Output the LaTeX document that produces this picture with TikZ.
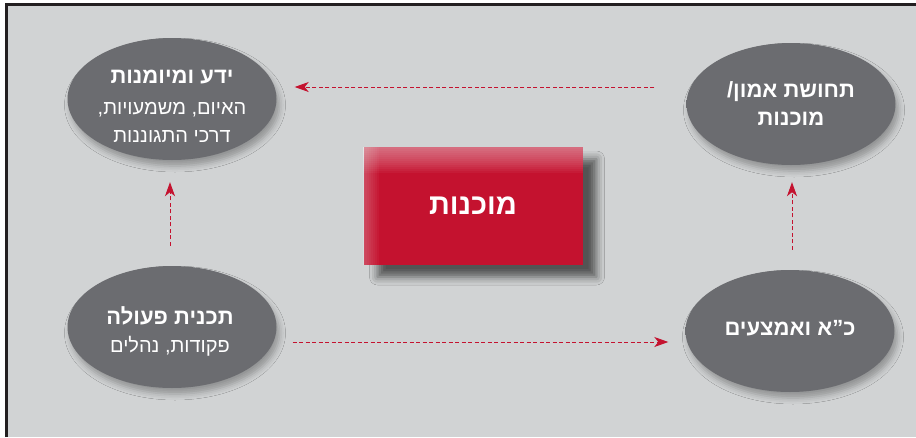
\documentclass[tikz,border=0pt]{standalone}
\usepackage{fontspec}
\setmainfont{Liberation Sans}
\newfontfamily\hebfont[Script=Hebrew]{Liberation Sans}
\TeXXeTstate=1
\usetikzlibrary{arrows.meta,positioning,calc,shapes.geometric,shadows.blur}
\definecolor{backdrop}{HTML}{D1D3D4}
\definecolor{pebble}{HTML}{6B6C70}
\definecolor{pebblerim}{HTML}{B2B3B6}
\definecolor{alarm}{HTML}{C4122F}
\definecolor{framing}{HTML}{231F20}
% the picture has y pointing down, so the shading centre is given upside down
\pgfdeclareradialshading{pebbleshade}{\pgfpoint{0bp}{8bp}}{color(0bp)=(pebble); color(40bp)=(pebble); color(54bp)=(pebblerim)}

\begin{document}
\begin{tikzpicture}[x=1pt,y=-1pt,
  pebble/.style={ellipse, minimum width=209pt, minimum height=122pt, inner sep=0pt,
    shading=pebbleshade,
    blur shadow={shadow xshift=3pt, shadow yshift=-6pt, shadow opacity=30, shadow blur radius=6pt}},
  caption/.style={text=white, align=center, inner sep=0pt, font=\hebfont\fontsize{20}{28}\selectfont},
  heading/.style={font=\hebfont\bfseries\fontsize{22}{28}\selectfont},
  alarmbox/.style={rectangle, minimum width=219pt, minimum height=118pt, inner sep=0pt,
    fill=alarm, text=white, font=\hebfont\bfseries\fontsize{29}{34}\selectfont,
    blur shadow={shadow xshift=14pt, shadow yshift=-12pt, shadow opacity=60, shadow blur radius=8pt}},
  flow/.style={draw=alarm, dash pattern=on 4pt off 2.5pt, line width=0.9pt,
    -{Stealth[length=14pt,width=10pt,inset=4pt]}},
]
  % --- backdrop and frame ---
  \useasboundingbox (0,0) rectangle (916,437);
  \fill[backdrop] (6,5) rectangle (916,437);
  \draw[framing, line width=3pt] (6.5,437) -- (6.5,4.5) -- (916,4.5);

  % --- the four ellipses ---
  \node[pebble] (tl) at (172,99) {};
  \node[pebble] (tr) at (791,104) {};
  \node[pebble] (bl) at (172,327) {};
  \node[pebble] (br) at (790,331) {};

  % --- their texts ---
  \node[caption] (tl-text) at (172,106) {{\bfseries\fontsize{22}{28}\selectfont\beginR ידע ומיומנות\endR}\\[3pt]
    \beginR האיום, משמעויות,\endR\\ \beginR דרכי התגוננות\endR};
  \node[caption, heading] (tr-text) at (791,104) {\beginR תחושת אמון/\endR\\ \beginR מוכנות\endR};
  \node[caption] (bl-text) at (170,331) {{\bfseries\fontsize{22}{28}\selectfont\beginR תכנית פעולה\endR}\\
    \beginR פקודות, נהלים\endR};
  \node[caption, heading] (br-text) at (790,328) {\beginR כ”א ואמצעים\endR};

  % --- centre box ---
  \node[alarmbox] (core) at (473,206) {\beginR מוכנות\endR};
  % gloss along the left and top edges
  \foreach \k in {1,...,8}
    \fill[white, opacity=0.035] (core.north west) rectangle ([xshift=2*\k pt]core.south west);
  \foreach \k in {1,...,13}
    \fill[white, opacity=0.04] (core.north west) rectangle ([yshift=-2*\k pt]core.north east);

  % --- connectors ---
  \draw[flow] ([xshift=-32pt,yshift=17pt]tr.west) -- ([xshift=18pt,yshift=12pt]tl.east);
  \draw[flow] ([xshift=-2pt]bl.north) -- ([xshift=-2pt]tl.south)
    [shorten <=20pt, shorten >=22pt];
  \draw[flow] ([xshift=16pt,yshift=-15pt]bl.east) -- ([xshift=-17pt,yshift=-11pt]br.west);
  \draw[flow] ([xshift=2pt]br.north) -- ([xshift=1pt]tr.south)
    [shorten <=20pt, shorten >=17pt];
\end{tikzpicture}
\end{document}
